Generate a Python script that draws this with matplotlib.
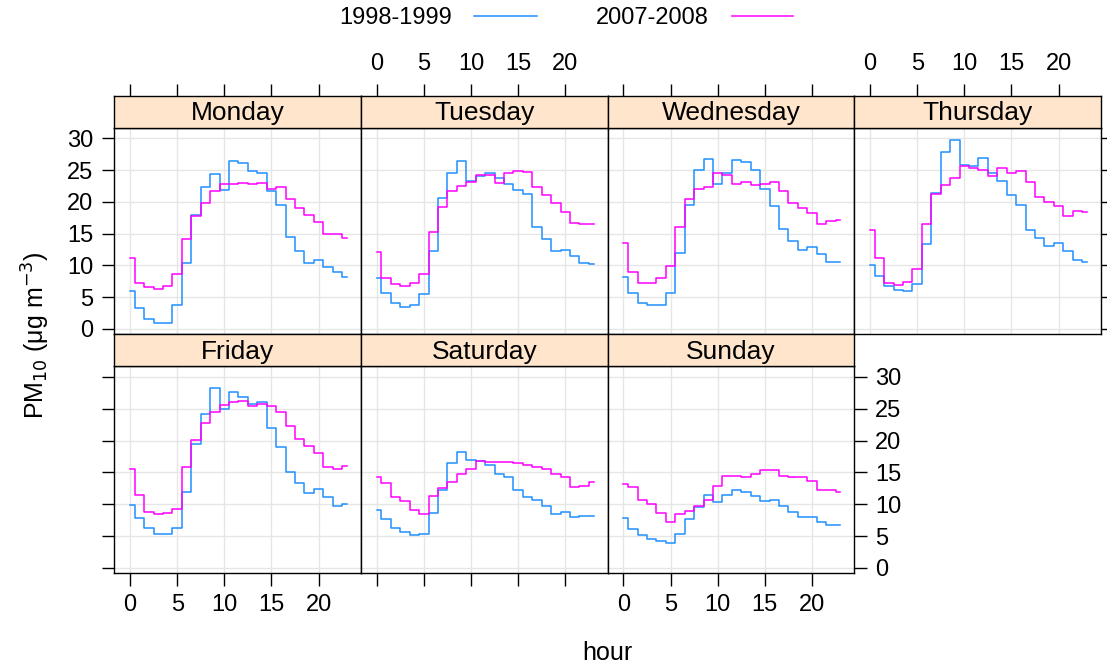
import matplotlib.pyplot as plt
from matplotlib.lines import Line2D

plt.rcParams['font.family'] = ['Liberation Sans', 'DejaVu Sans']

hours = list(range(24))
days = ['Monday', 'Tuesday', 'Wednesday', 'Thursday', 'Friday', 'Saturday', 'Sunday']

# mean PM10 by hour of day, 1998-1999
mon_a = [6.0, 3.3, 1.6, 1.0, 1.0, 3.7, 10.4, 17.9, 22.3, 24.4, 21.9, 26.4,
         26.1, 24.9, 24.6, 21.8, 19.6, 14.5, 12.3, 10.4, 10.8, 9.7, 9.0, 8.2]
tue_a = [8.0, 5.7, 4.1, 3.5, 3.7, 5.5, 12.3, 20.7, 24.6, 26.4, 23.3, 24.1,
         24.6, 23.7, 22.9, 21.9, 21.3, 16.1, 14.1, 12.3, 12.5, 11.5, 10.4, 10.2]
wed_a = [8.2, 5.6, 4.1, 3.7, 3.7, 5.6, 11.9, 19.5, 25.1, 26.7, 22.9, 24.6,
         26.6, 26.3, 25.0, 22.1, 19.4, 15.7, 13.9, 12.5, 12.9, 11.8, 10.5, 10.5]
thu_a = [10.0, 8.4, 6.8, 6.2, 6.0, 7.0, 13.3, 21.4, 27.8, 29.8, 25.9, 25.7,
         26.9, 24.5, 23.3, 21.1, 19.6, 15.6, 14.3, 13.1, 13.5, 12.3, 10.9, 10.6]
fri_a = [9.9, 7.9, 6.2, 5.4, 5.4, 6.2, 11.9, 19.5, 24.2, 28.3, 25.0, 27.6,
         26.8, 25.8, 26.0, 22.0, 19.0, 15.0, 13.4, 11.7, 12.4, 11.1, 9.7, 10.1]
sat_a = [9.1, 7.6, 6.3, 5.7, 5.2, 5.4, 8.6, 12.2, 16.4, 18.2, 16.9, 16.8,
         16.2, 14.8, 14.3, 12.2, 11.1, 10.6, 9.7, 8.4, 8.8, 8.0, 8.2, 8.2]
sun_a = [7.8, 6.1, 5.1, 4.5, 4.2, 3.9, 5.4, 7.6, 9.5, 11.4, 10.3, 11.4,
         12.3, 11.9, 11.3, 10.5, 10.6, 9.7, 8.8, 8.0, 8.0, 7.2, 6.7, 6.8]

# mean PM10 by hour of day, 2007-2008
mon_b = [11.1, 7.3, 6.6, 6.3, 6.8, 8.6, 14.2, 17.8, 19.8, 21.7, 22.9, 22.8,
         23.0, 22.9, 23.0, 22.1, 22.3, 20.4, 19.0, 17.9, 16.8, 15.0, 15.0, 14.3]
tue_b = [12.1, 8.0, 7.0, 6.8, 7.2, 8.6, 15.3, 19.2, 21.7, 22.5, 23.1, 24.2,
         24.2, 23.0, 24.5, 24.9, 24.7, 22.4, 21.1, 19.9, 18.4, 16.7, 16.5, 16.5]
wed_b = [13.6, 9.0, 7.2, 7.3, 8.1, 9.9, 16.0, 20.4, 22.0, 22.3, 24.6, 24.2,
         22.8, 23.1, 22.6, 22.9, 23.1, 21.8, 19.9, 19.0, 18.2, 16.5, 17.0, 17.2]
thu_b = [15.6, 11.2, 7.2, 6.9, 7.4, 9.4, 16.5, 21.2, 22.6, 23.7, 25.7, 25.3,
         25.1, 24.1, 25.3, 24.5, 24.9, 23.1, 20.8, 20.0, 19.3, 17.8, 18.6, 18.4]
fri_b = [15.6, 11.5, 8.8, 8.5, 8.6, 9.3, 15.8, 20.1, 22.7, 24.5, 25.5, 26.0,
         26.2, 25.4, 25.8, 25.4, 24.5, 22.3, 20.3, 19.2, 18.0, 15.8, 15.6, 16.0]
sat_b = [14.2, 13.3, 11.2, 10.5, 9.1, 8.5, 11.3, 12.5, 13.5, 14.8, 15.6, 16.8,
         16.7, 16.6, 16.6, 16.4, 16.2, 15.9, 15.5, 14.8, 14.3, 12.7, 12.9, 13.5]
sun_b = [13.1, 12.7, 10.7, 10.1, 8.6, 7.2, 8.5, 9.0, 9.7, 10.7, 12.8, 14.4,
         14.5, 14.3, 14.8, 15.4, 15.4, 14.5, 14.2, 14.2, 13.6, 12.3, 12.2, 11.9]

series_a = [mon_a, tue_a, wed_a, thu_a, fri_a, sat_a, sun_a]
series_b = [mon_b, tue_b, wed_b, thu_b, fri_b, sat_b, sun_b]
labels = ['1998-1999', '2007-2008']
col_a = '#1E90FF'
col_b = '#FF00FF'

xt = [0, 5, 10, 15, 20]
yt = [0, 5, 10, 15, 20, 25, 30]

W, H = 1107, 668
fig = plt.figure(figsize=(W / 100, H / 100), dpi=100)


def box(x0, y0, x1, y1):
    return [x0 / W, 1 - y1 / H, (x1 - x0) / W, (y1 - y0) / H]


col_x = [114.3, 361.0, 607.7, 854.3]
pw = 246.7
rows = [(96.0, 127.7, 334.0), (334.0, 366.0, 573.0)]
tick_kw = dict(length=9, width=1, color='black', labelsize=17, pad=6)

for i, day in enumerate(days):
    r, c = divmod(i, 4)
    x0 = col_x[c]
    s_top, s_bot, p_bot = rows[r]

    ax = fig.add_axes(box(x0, s_bot, x0 + pw, p_bot))
    ax.step(hours, series_a[i], where='mid', color=col_a, lw=1.1)
    ax.step(hours, series_b[i], where='mid', color=col_b, lw=1.1)
    ax.set_xlim(-1.67, 24.5)
    ax.set_ylim(-0.8, 31.7)
    ax.set_xticks(xt)
    ax.set_yticks(yt)
    ax.grid(color='#E6E6E6', lw=1)
    ax.set_axisbelow(True)
    for sp in ax.spines.values():
        sp.set_linewidth(1.0)
    ax.tick_params(axis='both', **tick_kw)
    ax.tick_params(axis='x', top=False, labeltop=False,
                   bottom=(r == 1), labelbottom=(r == 1 and c in (0, 2)))
    ax.tick_params(axis='y', left=(c == 0), labelleft=(r == 0 and c == 0),
                   right=(r == 0 and c == 3) or (r == 1 and c == 2),
                   labelright=(r == 1 and c == 2))

    st = fig.add_axes(box(x0, s_top, x0 + pw, s_bot))
    st.set_facecolor('#FFE5CC')
    st.set_xlim(-1.67, 24.5)
    st.set_ylim(0, 1)
    st.set_yticks([])
    st.set_xticks(xt if r == 0 else [])
    st.tick_params(axis='x', **tick_kw)
    st.tick_params(axis='x', bottom=False, labelbottom=False,
                   top=(r == 0), labeltop=(r == 0 and c in (1, 3)))
    for sp in st.spines.values():
        sp.set_linewidth(1.0)
    st.text(0.5, 0.45, day, transform=st.transAxes, ha='center', va='center',
            fontsize=19)

# legend across the top
fig.text(395.5 / W, 1 - 18 / H, labels[0], ha='center', va='center', fontsize=17)
fig.text(652.5 / W, 1 - 18 / H, labels[1], ha='center', va='center', fontsize=17)
fig.add_artist(Line2D([474 / W, 537 / W], [1 - 16 / H] * 2,
                      transform=fig.transFigure, color=col_a, lw=1.1))
fig.add_artist(Line2D([732 / W, 793 / W], [1 - 16 / H] * 2,
                      transform=fig.transFigure, color=col_b, lw=1.1))

fig.text(607.6 / W, 1 - 653 / H, 'hour', ha='center', va='center', fontsize=18)
fig.text(36 / W, 1 - 335 / H, 'PM$_{10}$ (μg m$^{-3}$)',
         rotation=90, ha='center', va='center', fontsize=18)

fig.savefig('out.png', dpi=100)
